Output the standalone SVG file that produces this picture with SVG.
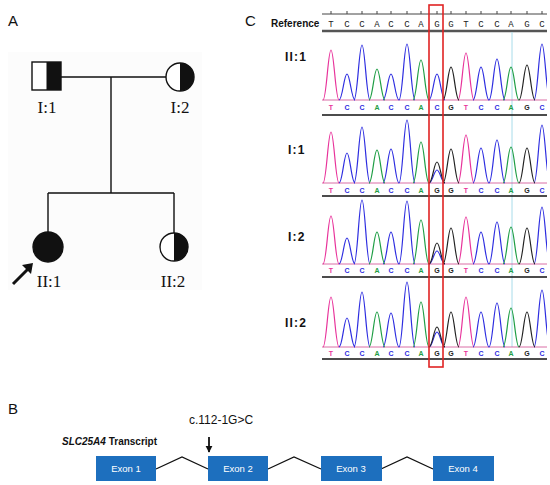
<svg xmlns="http://www.w3.org/2000/svg" width="550" height="485" viewBox="0 0 550 485">
<style>
.panel{font-family:"Liberation Sans",Arial,sans-serif;font-size:15px;fill:#111}
.ped{stroke:#111;stroke-width:1.4;fill:none}
.pl{font-family:"Liberation Serif","Times New Roman",serif;font-size:17px;fill:#111;text-anchor:middle}
.tl{font-family:"Liberation Sans",Arial,sans-serif;font-size:12px;font-weight:bold;fill:#111;letter-spacing:1.2px}
.ref{font-family:"Liberation Mono","Courier New",monospace;font-size:9px;fill:#222;text-anchor:middle}
.bl{font-family:"Liberation Sans",Arial,sans-serif;font-size:7px;font-weight:bold;text-anchor:middle}
.pk{fill:none;stroke-width:1.2;stroke-linejoin:round}
.T{stroke:#e8329a}.C{stroke:#2d2de0}.A{stroke:#1f9e45}.G{stroke:#222}
.tT{fill:#e8329a}.tC{fill:#2d2de0}.tA{fill:#1f9e45}.tG{fill:#222}
.ul{stroke:#111;stroke-width:1.5}
.exon{fill:#1d6fbe}
.ex{font-family:"Liberation Sans",Arial,sans-serif;font-size:9.5px;fill:#fff;text-anchor:middle}
</style>
<defs>
<clipPath id="c1"><rect x="322" y="30" width="225" height="71"/></clipPath>
<clipPath id="c2"><rect x="322" y="113" width="225" height="71"/></clipPath>
<clipPath id="c3"><rect x="322" y="194" width="225" height="71"/></clipPath>
<clipPath id="c4"><rect x="322" y="277" width="225" height="71"/></clipPath>
<marker id="ah" viewBox="0 0 10 10" refX="9" refY="5" markerWidth="4" markerHeight="4" orient="auto"><path d="M0,0L10,5L0,10z" fill="#111"/></marker>
</defs>
<rect width="550" height="485" fill="#fff"/>

<!-- Panel labels -->
<text class="panel" x="8" y="26">A</text>
<text class="panel" x="245" y="26">C</text>
<text class="panel" x="8" y="414">B</text>

<!-- Panel A pedigree -->
<rect x="8" y="52" width="194" height="238" fill="#fcfcfc"/>
<g id="connectors-pedigree">
<path class="ped" d="M61,77H166M111,77V193M48,193H174M48,193V232M174,193V233"/>
</g>
<g id="I1">
<rect x="32" y="62" width="29" height="28" fill="#fff" stroke="#111" stroke-width="1.4"/>
<rect x="46.5" y="62" width="14.5" height="28" fill="#111"/>
<text class="pl" x="47" y="113">I:1</text>
</g>
<g id="I2">
<circle cx="180" cy="77" r="14" fill="#fff" stroke="#111" stroke-width="1.4"/>
<path d="M180,63A14,14 0 0 1 180,91Z" fill="#111"/>
<text class="pl" x="180" y="113">I:2</text>
</g>
<g id="II1">
<circle cx="48" cy="247" r="15" fill="#111" stroke="#111" stroke-width="1.4"/>
<text class="pl" x="49" y="287">II:1</text>
<line x1="13" y1="284" x2="30" y2="267" stroke="#111" stroke-width="3"/>
<path d="M33,263L22,265L31,274Z" fill="#111"/>
</g>
<g id="II2">
<circle cx="174" cy="247" r="14" fill="#fff" stroke="#111" stroke-width="1.4"/>
<path d="M174,233A14,14 0 0 1 174,261Z" fill="#111"/>
<text class="pl" x="173" y="287">II:2</text>
</g>

<!-- Panel C chromatograms -->
<g id="reference-row">
<text x="271" y="27" font-family="'Liberation Sans',Arial,sans-serif" font-size="10" font-weight="bold" fill="#111">Reference</text>
<line x1="322" y1="14" x2="547" y2="14" stroke="#444" stroke-width="1"/>
<path d="M331,11V14M347,11V14M362,11V14M377,11V14M391,11V14M407,11V14M421,11V14M437,11V14M451,11V14M466,11V14M481,11V14M497,11V14M511,11V14M527,11V14M542,11V14" stroke="#444" stroke-width="1"/>
<g class="ref">
<text x="331" y="27">T</text><text x="347" y="27">C</text><text x="362" y="27">C</text><text x="377" y="27">A</text><text x="391" y="27">C</text><text x="407" y="27">C</text><text x="421" y="27">A</text><text x="437" y="27">G</text><text x="451" y="27">G</text><text x="466" y="27">T</text><text x="481" y="27">C</text><text x="497" y="27">C</text><text x="511" y="27">A</text><text x="527" y="27">G</text><text x="542" y="27">C</text>
</g>
<line x1="322" y1="31" x2="547" y2="31" stroke="#555" stroke-width="2.5"/>
</g>
<line x1="512" y1="32" x2="512" y2="347" stroke="#a8dcea" stroke-width="1"/>

<g id="trace-II1">
<text class="tl" x="285" y="61">II:1</text>
<g clip-path="url(#c1)">
<line x1="322" y1="100" x2="547" y2="100" stroke="#d04a90" stroke-width="0.8"/>
<path class="pk T" d="M323,100C326.5,100 328,50 331,50S335.5,100 339,100M458,100C461.5,100 463,53 466,53S470.5,100 474,100"/>
<path class="pk C" d="M339,100C342.5,100 344,74 347,74S351.5,100 355,100M354,100C357.5,100 359,45 362,45S366.5,100 370,100M383,100C386.5,100 388,74 391,74S395.5,100 399,100M399,100C402.5,100 404,44 407,44S411.5,100 415,100M429,100C432.5,100 434,74 437,74S441.5,100 445,100M473,100C476.5,100 478,67 481,67S485.5,100 489,100M489,100C492.5,100 494,59 497,59S501.5,100 505,100M534,100C537.5,100 539,44 542,44S546.5,100 550,100"/>
<path class="pk A" d="M369,100C372.5,100 374,69 377,69S381.5,100 385,100M413,100C416.5,100 418,60 421,60S425.5,100 429,100M503,100C506.5,100 508,67 511,67S515.5,100 519,100"/>
<path class="pk G" d="M443,100C446.5,100 448,67 451,67S455.5,100 459,100M519,100C522.5,100 524,65 527,65S531.5,100 535,100"/>
</g>
<g class="bl">
<text class="tT" x="331" y="110">T</text><text class="tC" x="347" y="110">C</text><text class="tC" x="362" y="110">C</text><text class="tA" x="377" y="110">A</text><text class="tC" x="391" y="110">C</text><text class="tC" x="407" y="110">C</text><text class="tA" x="421" y="110">A</text><text class="tC" x="437" y="110">C</text><text class="tG" x="451" y="110">G</text><text class="tT" x="466" y="110">T</text><text class="tC" x="481" y="110">C</text><text class="tC" x="497" y="110">C</text><text class="tA" x="511" y="110">A</text><text class="tG" x="527" y="110">G</text><text class="tC" x="542" y="110">C</text>
</g>
<line class="ul" x1="322" y1="115" x2="547" y2="115"/>
</g>

<g id="trace-I1">
<text class="tl" x="288" y="154">I:1</text>
<g clip-path="url(#c2)">
<line x1="322" y1="183" x2="547" y2="183" stroke="#d04a90" stroke-width="0.8"/>
<path class="pk T" d="M323,183C326.5,183 328,132 331,132S335.5,183 339,183M458,183C461.5,183 463,135 466,135S470.5,183 474,183"/>
<path class="pk C" d="M339,183C342.5,183 344,153 347,153S351.5,183 355,183M354,183C357.5,183 359,127 362,127S366.5,183 370,183M383,183C386.5,183 388,149 391,149S395.5,183 399,183M399,183C402.5,183 404,120 407,120S411.5,183 415,183M429,183C432.5,183 434,170 437,170S441.5,183 445,183M473,183C476.5,183 478,148 481,148S485.5,183 489,183M489,183C492.5,183 494,140 497,140S501.5,183 505,183M534,183C537.5,183 539,125 542,125S546.5,183 550,183"/>
<path class="pk A" d="M369,183C372.5,183 374,150 377,150S381.5,183 385,183M413,183C416.5,183 418,142 421,142S425.5,183 429,183M503,183C506.5,183 508,147 511,147S515.5,183 519,183"/>
<path class="pk G" d="M429,183C432.5,183 434,162 437,162S441.5,183 445,183M443,183C446.5,183 448,149 451,149S455.5,183 459,183M519,183C522.5,183 524,148 527,148S531.5,183 535,183"/>
</g>
<g class="bl">
<text class="tT" x="331" y="193">T</text><text class="tC" x="347" y="193">C</text><text class="tC" x="362" y="193">C</text><text class="tA" x="377" y="193">A</text><text class="tC" x="391" y="193">C</text><text class="tC" x="407" y="193">C</text><text class="tA" x="421" y="193">A</text><text class="tG" x="437" y="193">G</text><text class="tG" x="451" y="193">G</text><text class="tT" x="466" y="193">T</text><text class="tC" x="481" y="193">C</text><text class="tC" x="497" y="193">C</text><text class="tA" x="511" y="193">A</text><text class="tG" x="527" y="193">G</text><text class="tC" x="542" y="193">C</text>
</g>
<line class="ul" x1="322" y1="196" x2="547" y2="196"/>
</g>

<g id="trace-I2">
<text class="tl" x="288" y="241">I:2</text>
<g clip-path="url(#c3)">
<line x1="322" y1="264" x2="547" y2="264" stroke="#d04a90" stroke-width="0.8"/>
<path class="pk T" d="M323,264C326.5,264 328,216 331,216S335.5,264 339,264M458,264C461.5,264 463,217 466,217S470.5,264 474,264"/>
<path class="pk C" d="M339,264C342.5,264 344,238 347,238S351.5,264 355,264M354,264C357.5,264 359,200 362,200S366.5,264 370,264M383,264C386.5,264 388,232 391,232S395.5,264 399,264M399,264C402.5,264 404,201 407,201S411.5,264 415,264M429,264C432.5,264 434,251 437,251S441.5,264 445,264M473,264C476.5,264 478,232 481,232S485.5,264 489,264M489,264C492.5,264 494,222 497,222S501.5,264 505,264M534,264C537.5,264 539,207 542,207S546.5,264 550,264"/>
<path class="pk A" d="M369,264C372.5,264 374,232 377,232S381.5,264 385,264M413,264C416.5,264 418,220 421,220S425.5,264 429,264M503,264C506.5,264 508,227 511,227S515.5,264 519,264"/>
<path class="pk G" d="M429,264C432.5,264 434,243 437,243S441.5,264 445,264M443,264C446.5,264 448,228 451,228S455.5,264 459,264M519,264C522.5,264 524,228 527,228S531.5,264 535,264"/>
</g>
<g class="bl">
<text class="tT" x="331" y="273">T</text><text class="tC" x="347" y="273">C</text><text class="tC" x="362" y="273">C</text><text class="tA" x="377" y="273">A</text><text class="tC" x="391" y="273">C</text><text class="tC" x="407" y="273">C</text><text class="tA" x="421" y="273">A</text><text class="tG" x="437" y="273">G</text><text class="tG" x="451" y="273">G</text><text class="tT" x="466" y="273">T</text><text class="tC" x="481" y="273">C</text><text class="tC" x="497" y="273">C</text><text class="tA" x="511" y="273">A</text><text class="tG" x="527" y="273">G</text><text class="tC" x="542" y="273">C</text>
</g>
<line class="ul" x1="322" y1="277" x2="547" y2="277"/>
</g>

<g id="trace-II2">
<text class="tl" x="285" y="327">II:2</text>
<g clip-path="url(#c4)">
<line x1="322" y1="347" x2="547" y2="347" stroke="#d04a90" stroke-width="0.8"/>
<path class="pk T" d="M323,347C326.5,347 328,297 331,297S335.5,347 339,347M458,347C461.5,347 463,297 466,297S470.5,347 474,347"/>
<path class="pk C" d="M339,347C342.5,347 344,318 347,318S351.5,347 355,347M354,347C357.5,347 359,292 362,292S366.5,347 370,347M383,347C386.5,347 388,313 391,313S395.5,347 399,347M399,347C402.5,347 404,282 407,282S411.5,347 415,347M429,347C432.5,347 434,332 437,332S441.5,347 445,347M473,347C476.5,347 478,312 481,312S485.5,347 489,347M489,347C492.5,347 494,303 497,303S501.5,347 505,347M534,347C537.5,347 539,290 542,290S546.5,347 550,347"/>
<path class="pk A" d="M369,347C372.5,347 374,312 377,312S381.5,347 385,347M413,347C416.5,347 418,302 421,302S425.5,347 429,347M503,347C506.5,347 508,308 511,308S515.5,347 519,347"/>
<path class="pk G" d="M429,347C432.5,347 434,327 437,327S441.5,347 445,347M443,347C446.5,347 448,312 451,312S455.5,347 459,347M519,347C522.5,347 524,312 527,312S531.5,347 535,347"/>
</g>
<g class="bl">
<text class="tT" x="331" y="356">T</text><text class="tC" x="347" y="356">C</text><text class="tC" x="362" y="356">C</text><text class="tA" x="377" y="356">A</text><text class="tC" x="391" y="356">C</text><text class="tC" x="407" y="356">C</text><text class="tA" x="421" y="356">A</text><text class="tG" x="437" y="356">G</text><text class="tG" x="451" y="356">G</text><text class="tT" x="466" y="356">T</text><text class="tC" x="481" y="356">C</text><text class="tC" x="497" y="356">C</text><text class="tA" x="511" y="356">A</text><text class="tG" x="527" y="356">G</text><text class="tC" x="542" y="356">C</text>
</g>
<line class="ul" x1="322" y1="359" x2="547" y2="359"/>
</g>

<rect id="highlight" x="429" y="5" width="14" height="362" fill="none" stroke="#e02424" stroke-width="1.6"/>

<!-- Panel B transcript -->
<text x="62" y="445" font-family="'Liberation Sans',Arial,sans-serif" font-size="10" font-weight="bold" fill="#111"><tspan font-style="italic">SLC25A4</tspan> Transcript</text>
<text x="221" y="424" font-family="'Liberation Sans',Arial,sans-serif" font-size="12" fill="#111" text-anchor="middle">c.112-1G&gt;C</text>
<g id="connectors-transcript">
<path d="M156,469L182,457L208,469M268,469L294,457L321,469M381,469L407,457L433,469" fill="none" stroke="#111" stroke-width="1.3"/>
<line x1="209" y1="437" x2="209" y2="452" stroke="#111" stroke-width="1.8" marker-end="url(#ah)"/>
</g>
<g id="exon1"><rect class="exon" x="96" y="456" width="60" height="25"/><text class="ex" x="126" y="472">Exon 1</text></g>
<g id="exon2"><rect class="exon" x="208" y="456" width="60" height="25"/><text class="ex" x="238" y="472">Exon 2</text></g>
<g id="exon3"><rect class="exon" x="321" y="456" width="61" height="25"/><text class="ex" x="351" y="472">Exon 3</text></g>
<g id="exon4"><rect class="exon" x="433" y="456" width="61" height="25"/><text class="ex" x="463" y="472">Exon 4</text></g>
</svg>
